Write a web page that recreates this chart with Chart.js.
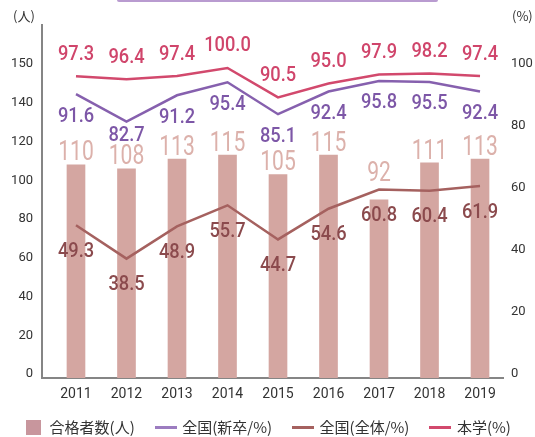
<!DOCTYPE html>
<html>
<head>
<meta charset="utf-8">
<script src="https://cdn.jsdelivr.net/npm/chart.js@4.4.1/dist/chart.umd.min.js"></script>
<style>
  html, body { margin: 0; padding: 0; background: #fff; overflow: hidden; }
  #wrap { position: relative; width: 535px; height: 437px; }
  .top-edge { position: absolute; top: 0; left: 117px; width: 321px; height: 2px; background: #b99bd0; border-radius: 0 0 2px 2px; }
</style>
</head>
<body>
<div id="wrap">
  <div class="top-edge"></div>
  <canvas id="passChart" width="535" height="437"></canvas>
</div>
<script>
// data
const years = [2011, 2012, 2013, 2014, 2015, 2016, 2017, 2018, 2019]
const passCount = [110, 108, 113, 115, 105, 115, 92, 111, 113]
const rateNewGrad = [91.6, 82.7, 91.2, 95.4, 85.1, 92.4, 95.8, 95.5, 92.4]
const rateAll = [49.3, 38.5, 48.9, 55.7, 44.7, 54.6, 60.8, 60.4, 61.9]
const rateOurs = [97.3, 96.4, 97.4, 100.0, 90.5, 95.0, 97.9, 98.2, 97.4]
const leftTickLabels = [0, 20, 40, 60, 80, 100, 120, 140, 150]
const rightTickLabels = [0, 20, 40, 60, 80, 100]

const seriesNames = ["合格者数(人)", "全国(新卒/%)", "全国(全体/%)", "本学(%)"]

const colors = {
  bar: "#d4a6a1",
  barLabel: "#dcb1ab",
  barLegend: "#c8969d",
  newGrad: "#8660ae",
  newGradLabel: "#7d57a7",
  all: "#a5615f",
  allLabel: "#8b4a4d",
  ours: "#d2496d",
  oursLabel: "#d0456b",
  axis: "#858585",
  text: "#333",
}

const numFont = "Roboto, 'DejaVu Sans', sans-serif"
const cjkFont = "'Noto Sans CJK JP', 'Noto Sans', sans-serif"

function toPoints(values) {
  return years.map((y, i) => ({ x: y, y: values[i] }))
}

function swatch(w, h, color) {
  const c = document.createElement("canvas")
  c.width = w
  c.height = h
  const g = c.getContext("2d")
  g.fillStyle = color
  g.fillRect(0, 0, w, h)
  return c
}

const legendIcons = [
  swatch(15, 15, colors.barLegend),
  swatch(22, 3, "#9c7cc0"),
  swatch(22, 3, colors.all),
  swatch(22, 3, colors.ours),
]

// label style per dataset
const labelStyles = [
  { color: colors.barLabel, size: 27, weight: "400", squeeze: 0.78, fmt: (v) => String(v) },
  { color: colors.newGradLabel, size: 21, weight: "500", squeeze: 0.87, dy: 20, fmt: (v) => v.toFixed(1) },
  { color: colors.allLabel, size: 21, weight: "500", squeeze: 0.87, dy: 24, fmt: (v) => v.toFixed(1) },
  { color: colors.oursLabel, size: 21, weight: "500", squeeze: 0.87, dy: -24, fmt: (v) => v.toFixed(1) },
]

function drawSqueezed(ctx, text, x, y, st) {
  ctx.save()
  ctx.translate(x, y)
  ctx.scale(st.squeeze, 1)
  ctx.font = `${st.weight} ${st.size}px ${numFont}`
  ctx.fillStyle = st.color
  ctx.textAlign = "center"
  ctx.textBaseline = "alphabetic"
  ctx.fillText(text, 0, st.size * 0.711 / 2)
  ctx.restore()
}

const valueLabels = {
  id: "valueLabels",
  afterDatasetsDraw(chart) {
    const ctx = chart.ctx
    const bars = chart.getDatasetMeta(0).data
    const allLine = chart.getDatasetMeta(2).data
    // bar numbers sit above the bar, but stay clear of the 全国(全体) line
    const barLabelY = bars.map((bar, i) => Math.min(bar.y - 14, allLine[i].y - 18))

    chart.data.datasets.forEach((ds, di) => {
      const st = labelStyles[di]
      chart.getDatasetMeta(di).data.forEach((el, i) => {
        let y
        if (di === 0) y = barLabelY[i]
        else if (di === 1) y = Math.min(el.y + st.dy, barLabelY[i] - 21)
        else y = el.y + st.dy
        drawSqueezed(ctx, st.fmt(ds.data[i].y), el.x, y, st)
      })
    })
  },
}

const axisUnits = {
  id: "axisUnits",
  afterDraw(chart) {
    const ctx = chart.ctx
    const area = chart.chartArea
    ctx.save()
    ctx.font = `13px ${cjkFont}`
    ctx.fillStyle = colors.text
    ctx.textBaseline = "middle"
    ctx.textAlign = "center"
    ctx.fillText("(人)", area.left - 18, 16)
    ctx.textAlign = "left"
    ctx.fillText("(%)", area.right + 9, 16)
    ctx.restore()
  },
}

document.addEventListener("DOMContentLoaded", () => {
  const ctx = document.getElementById("passChart")

  new Chart(ctx, {
    data: {
      datasets: [
        {
          type: "bar",
          label: seriesNames[0],
          data: toPoints(passCount),
          yAxisID: "y",
          backgroundColor: colors.bar,
          barThickness: 18,
          order: 2,
        },
        {
          type: "line",
          label: seriesNames[1],
          data: toPoints(rateNewGrad),
          yAxisID: "y1",
          borderColor: colors.newGrad,
          borderWidth: 2.5,
          pointRadius: 0,
          tension: 0,
          order: 1,
        },
        {
          type: "line",
          label: seriesNames[2],
          data: toPoints(rateAll),
          yAxisID: "y1",
          borderColor: colors.all,
          borderWidth: 2.5,
          pointRadius: 0,
          tension: 0,
          order: 1,
        },
        {
          type: "line",
          label: seriesNames[3],
          data: toPoints(rateOurs),
          yAxisID: "y1",
          borderColor: colors.ours,
          borderWidth: 2.5,
          pointRadius: 0,
          tension: 0,
          order: 1,
        },
      ],
    },
    options: {
      responsive: false,
      animation: false,
      devicePixelRatio: 1,
      layout: {
        padding: { top: 25, left: 0, right: 0, bottom: -8 },
      },
      plugins: {
        tooltip: { enabled: false },
        legend: {
          position: "bottom",
          labels: {
            usePointStyle: true,
            pointStyleWidth: 18,
            padding: 22,
            color: colors.text,
            font: { family: cjkFont, size: 15 },
            sort: (a, b) => a.datasetIndex - b.datasetIndex,
            generateLabels(chart) {
              const items = Chart.defaults.plugins.legend.labels.generateLabels(chart)
              items.forEach((item) => {
                item.pointStyle = legendIcons[item.datasetIndex]
              })
              return items
            },
          },
        },
      },
      scales: {
        x: {
          type: "linear",
          offset: false,
          min: 2010.327,
          max: 2019.455,
          grid: { display: false, drawTicks: false },
          border: { display: true, color: colors.axis, width: 2 },
          afterBuildTicks: (scale) => {
            scale.ticks = years.map((v) => ({ value: v }))
          },
          afterFit: (scale) => {
            scale.height = 20
          },
          ticks: {
            padding: 8,
            color: colors.text,
            font: { family: numFont, size: 14 },
            callback: (value) => String(value),
          },
        },
        y: {
          position: "left",
          min: 0,
          max: 182.2,
          grid: { display: false, drawTicks: false },
          border: { display: true, color: colors.axis, width: 2 },
          afterBuildTicks: (scale) => {
            scale.ticks = leftTickLabels.map((v, i) => ({ value: i * 20 }))
          },
          afterFit: (scale) => {
            scale.width = 42
          },
          ticks: {
            padding: 9,
            labelOffset: -4,
            color: colors.text,
            font: { family: numFont, size: 13 },
            callback: (value, index) => String(leftTickLabels[index]),
          },
        },
        y1: {
          position: "right",
          min: 0,
          max: 113.87,
          grid: { display: false, drawTicks: false },
          border: { display: false },
          afterBuildTicks: (scale) => {
            scale.ticks = rightTickLabels.map((v) => ({ value: v }))
          },
          afterFit: (scale) => {
            scale.width = 32
          },
          ticks: {
            padding: 8,
            labelOffset: -4,
            color: colors.text,
            font: { family: numFont, size: 13 },
            callback: (value) => String(value),
          },
        },
      },
    },
    plugins: [valueLabels, axisUnits],
  })
})
</script>
</body>
</html>
